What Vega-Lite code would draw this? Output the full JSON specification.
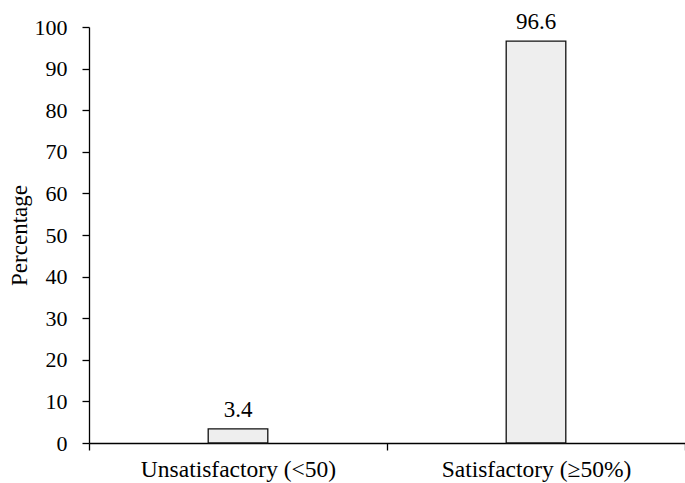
{
  "$schema": "https://vega.github.io/schema/vega-lite/v6.json",
  "width": 596,
  "height": 416,
  "autosize": "none",
  "padding": {"left": 89, "top": 27, "right": 0, "bottom": 40},
  "background": "white",
  "config": {
    "view": {"stroke": null},
    "font": "Liberation Serif",
    "axis": {
      "labelFont": "Liberation Serif",
      "titleFont": "Liberation Serif",
      "labelColor": "black",
      "titleColor": "black",
      "domainColor": "black",
      "tickColor": "black",
      "titleFontWeight": "normal",
      "grid": false,
      "tickSize": 7,
      "domainWidth": 1.3,
      "tickWidth": 1.3,
      "labelLimit": 0
    }
  },
  "data": {
    "values": [
      {"category": "Unsatisfactory (<50)", "percentage": 3.4},
      {"category": "Satisfactory (≥50%)", "percentage": 96.6}
    ]
  },
  "encoding": {
    "x": {
      "field": "category",
      "type": "nominal",
      "sort": null,
      "scale": {"paddingInner": 0, "paddingOuter": 0},
      "axis": {"title": null, "labelAngle": 0, "tickBand": "extent", "labelPadding": 7, "labelFontSize": 23.5}
    },
    "y": {
      "field": "percentage",
      "type": "quantitative",
      "scale": {"domain": [0, 100], "nice": false},
      "axis": {"title": "Percentage", "values": [0,10,20,30,40,50,60,70,80,90,100], "titlePadding": 3, "labelPadding": 15, "labelFontSize": 22, "titleFontSize": 23}
    }
  },
  "layer": [
    {
      "mark": {"type": "bar", "width": {"band": 0.2}, "fill": "#eeeeee", "stroke": "#111111", "strokeWidth": 1.3}
    },
    {
      "mark": {"type": "text", "baseline": "alphabetic", "dy": -12, "fontSize": 23, "font": "Liberation Serif", "color": "black"},
      "encoding": {"text": {"field": "percentage", "type": "quantitative", "format": ".1f"}}
    }
  ]
}
